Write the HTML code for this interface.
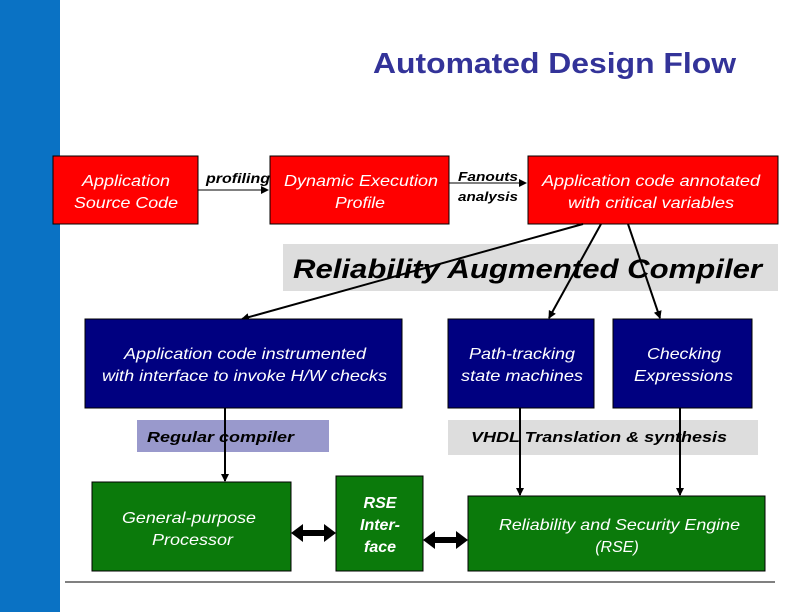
<!DOCTYPE html>
<html><head><meta charset="utf-8"><style>
html,body{margin:0;padding:0;background:#fff}
svg{display:block}
text{font-family:"Liberation Sans",Arial,sans-serif}
</style></head><body>
<svg width="792" height="612" viewBox="0 0 792 612" xmlns="http://www.w3.org/2000/svg">
<defs>
<marker id="a" markerWidth="8" markerHeight="8" refX="7" refY="4" orient="auto" markerUnits="userSpaceOnUse"><path d="M0,0 L8,4 L0,8 z" fill="#000"/></marker>
</defs>
<rect x="0" y="0" width="60" height="612" fill="#0a72c4"/>
<text x="373" y="73" font-size="29" font-weight="bold" fill="#333399" textLength="363" lengthAdjust="spacingAndGlyphs">Automated Design Flow</text>

<g stroke="#000" stroke-width="1">
<rect x="53" y="156" width="145" height="68" fill="#f00"/>
<rect x="270" y="156" width="179" height="68" fill="#f00"/>
<rect x="528" y="156" width="250" height="68" fill="#f00"/>
</g>
<g fill="#fff" font-style="italic" font-size="16" lengthAdjust="spacingAndGlyphs">
<text x="82" y="186" textLength="88" lengthAdjust="spacingAndGlyphs">Application</text><text x="74" y="208" textLength="104" lengthAdjust="spacingAndGlyphs">Source Code</text>
<text x="284" y="186" textLength="154" lengthAdjust="spacingAndGlyphs">Dynamic Execution</text><text x="335" y="208" textLength="50" lengthAdjust="spacingAndGlyphs">Profile</text>
<text x="542" y="186" textLength="218" lengthAdjust="spacingAndGlyphs">Application code annotated</text><text x="568" y="208" textLength="166" lengthAdjust="spacingAndGlyphs">with critical variables</text>
</g>
<line x1="198" y1="190" x2="268" y2="190" stroke="#000" marker-end="url(#a)"/>
<text x="206" y="183" font-size="14" font-weight="bold" font-style="italic" textLength="64" lengthAdjust="spacingAndGlyphs">profiling</text>
<line x1="449" y1="183" x2="526" y2="183" stroke="#000" marker-end="url(#a)"/>
<text x="458" y="181" font-size="13" font-weight="bold" font-style="italic" textLength="60" lengthAdjust="spacingAndGlyphs">Fanouts</text>
<text x="458" y="201" font-size="13" font-weight="bold" font-style="italic" textLength="60" lengthAdjust="spacingAndGlyphs">analysis</text>

<rect x="283" y="244" width="495" height="47" fill="#ddd"/>
<text x="293" y="278" font-size="27" font-weight="bold" font-style="italic" fill="#000" textLength="469" lengthAdjust="spacingAndGlyphs">Reliability Augmented Compiler</text>

<g stroke="#000" stroke-width="2">
<line x1="583" y1="224" x2="242" y2="319" marker-end="url(#a)"/>
<line x1="601" y1="224" x2="549" y2="318" marker-end="url(#a)"/>
<line x1="628" y1="224" x2="660" y2="318" marker-end="url(#a)"/>
</g>

<g fill="#000080" stroke="#000">
<rect x="85" y="319" width="317" height="89"/>
<rect x="448" y="319" width="146" height="89"/>
<rect x="613" y="319" width="139" height="89"/>
</g>
<g fill="#fff" font-style="italic" font-size="16">
<text x="124" y="359" textLength="242" lengthAdjust="spacingAndGlyphs">Application code instrumented</text><text x="102" y="381" textLength="285" lengthAdjust="spacingAndGlyphs">with interface to invoke H/W checks</text>
<text x="469" y="359" textLength="106" lengthAdjust="spacingAndGlyphs">Path-tracking</text><text x="461" y="381" textLength="122" lengthAdjust="spacingAndGlyphs">state machines</text>
<text x="647" y="359" textLength="74" lengthAdjust="spacingAndGlyphs">Checking</text><text x="634" y="381" textLength="99" lengthAdjust="spacingAndGlyphs">Expressions</text>
</g>

<rect x="137" y="420" width="192" height="32" fill="#9999cc"/>
<text x="147" y="442" font-size="15" font-weight="bold" font-style="italic" textLength="147" lengthAdjust="spacingAndGlyphs">Regular compiler</text>
<rect x="448" y="420" width="310" height="35" fill="#ddd"/>
<text x="471" y="442" font-size="15" font-weight="bold" font-style="italic" textLength="256" lengthAdjust="spacingAndGlyphs">VHDL Translation &amp; synthesis</text>

<g stroke="#000" stroke-width="2">
<line x1="225" y1="408" x2="225" y2="481" marker-end="url(#a)"/>
<line x1="520" y1="408" x2="520" y2="495" marker-end="url(#a)"/>
<line x1="680" y1="408" x2="680" y2="495" marker-end="url(#a)"/>
</g>

<g fill="#0b7a0b" stroke="#000">
<rect x="92" y="482" width="199" height="89"/>
<rect x="336" y="476" width="87" height="95"/>
<rect x="468" y="496" width="297" height="75"/>
</g>
<g fill="#fff" font-style="italic" font-size="16">
<text x="122" y="523" textLength="134" lengthAdjust="spacingAndGlyphs">General-purpose</text><text x="152" y="545" textLength="81" lengthAdjust="spacingAndGlyphs">Processor</text>
<g font-weight="bold" text-anchor="middle"><text x="380" y="508">RSE</text><text x="380" y="530">Inter-</text><text x="380" y="552">face</text></g>
<text x="499" y="530" textLength="241" lengthAdjust="spacingAndGlyphs">Reliability and Security Engine</text><text x="617" y="552" text-anchor="middle">(RSE)</text>
</g>

<g fill="#000">
<path d="M291,533 L303,524 L303,530 L324,530 L324,524 L336,533 L324,542 L324,536 L303,536 L303,542 z"/>
<path d="M423,540 L435,531 L435,537 L456,537 L456,531 L468,540 L456,549 L456,543 L435,543 L435,549 z"/>
</g>
<line x1="65" y1="582" x2="775" y2="582" stroke="#000" stroke-width="1"/>
</svg>
</body></html>
